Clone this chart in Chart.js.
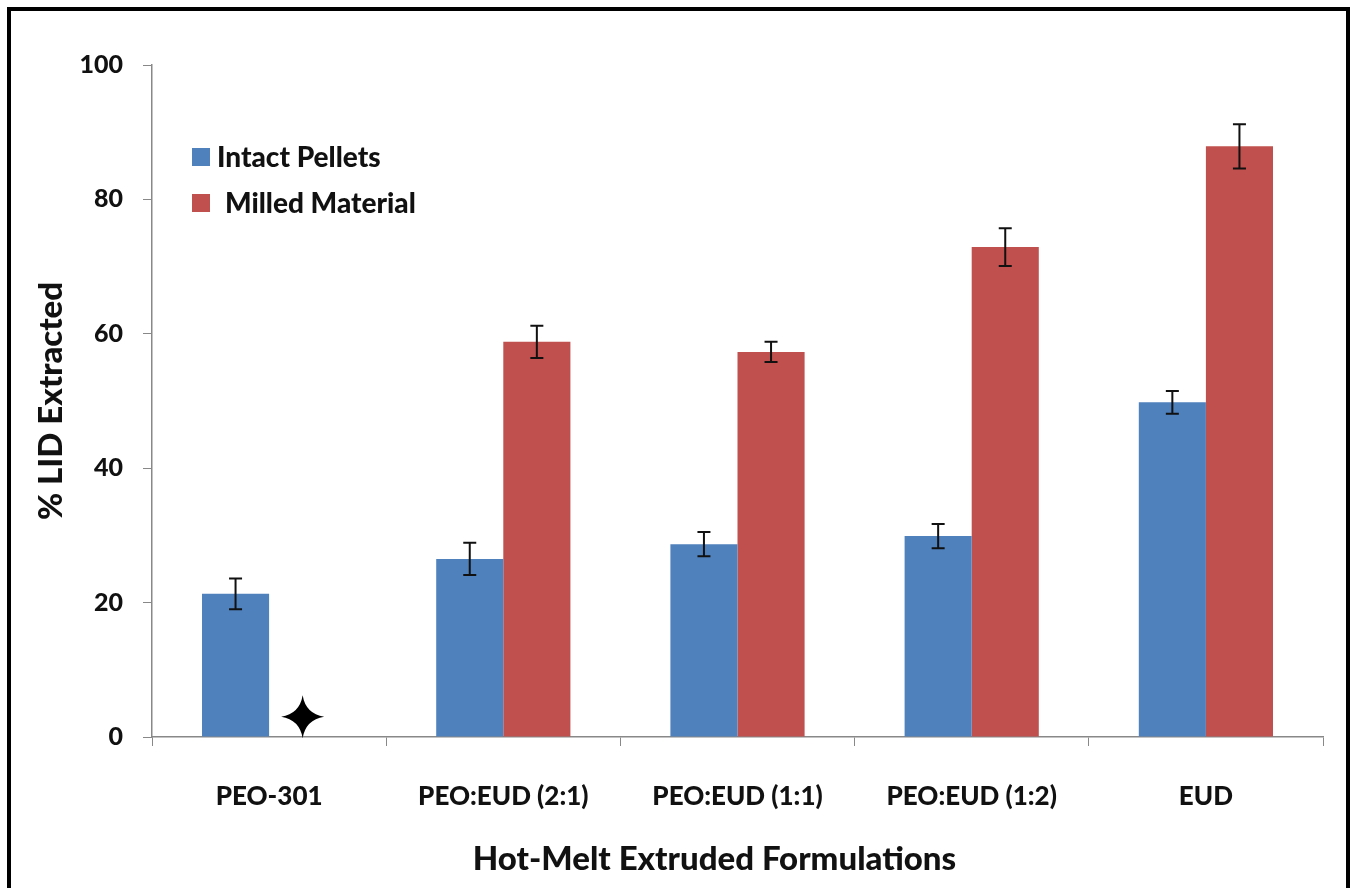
<!DOCTYPE html>
<html>
<head>
<meta charset="utf-8">
<script src="https://cdn.jsdelivr.net/npm/chart.js@4.4.1/dist/chart.umd.min.js"></script>
<style>
  html, body { margin: 0; padding: 0; background: #fff; overflow: hidden; }
  #wrap { position: relative; width: 1355px; height: 888px; }
  #frame {
    position: absolute; left: 7px; top: 7px; width: 1335px; height: 878px;
    border: 4px solid #000; border-bottom: 2px solid #999; pointer-events: none;
  }
</style>
</head>
<body>
<div id="wrap">
  <canvas id="lidChart" width="1355" height="888"></canvas>
  <div id="frame"></div>
</div>
<script>
// values
const categories = ['PEO-301', 'PEO:EUD (2:1)', 'PEO:EUD (1:1)', 'PEO:EUD (1:2)', 'EUD'];
const intactPellets = [21.3, 26.5, 28.7, 29.9, 49.8];
const intactErr = [2.3, 2.4, 1.8, 1.8, 1.7];
const milledMaterial = [null, 58.8, 57.3, 72.9, 87.9];
const milledErr = [null, 2.4, 1.5, 2.8, 3.3];
const notDetectedMark = [3, null, null, null, null]; // star in place of the milled bar
const yTicks = [0, 20, 40, 60, 80, 100];
const xTitle = 'Hot-Melt Extruded Formulations';

const FONT = 'Lato, "Open Sans", sans-serif';
const WEIGHT = '900';

// error bars on top of each bar
const errorBars = {
    id: 'errorBars',
    afterDatasetsDraw(chart) {
        const ctx = chart.ctx;
        const y = chart.scales.y;
        const errs = [intactErr, milledErr];
        ctx.save();
        ctx.strokeStyle = '#111';
        ctx.lineWidth = 2;
        chart.data.datasets.forEach((ds, i) => {
            const meta = chart.getDatasetMeta(i);
            meta.data.forEach((bar, j) => {
                const v = ds.data[j], e = errs[i][j];
                if (v == null || e == null) return;
                const top = y.getPixelForValue(v + e);
                const bot = y.getPixelForValue(v - e);
                ctx.beginPath();
                ctx.moveTo(bar.x, top); ctx.lineTo(bar.x, bot);
                ctx.moveTo(bar.x - 6.5, top); ctx.lineTo(bar.x + 6.5, top);
                ctx.moveTo(bar.x - 6.5, bot); ctx.lineTo(bar.x + 6.5, bot);
                ctx.stroke();
            });
        });
        ctx.restore();
    }
};

// 4-point star where the milled bar would be
const starMark = {
    id: 'starMark',
    afterDatasetsDraw(chart) {
        const ctx = chart.ctx;
        const meta = chart.getDatasetMeta(1);
        ctx.save();
        ctx.fillStyle = '#000';
        notDetectedMark.forEach((v, j) => {
            if (v == null) return;
            const cx = meta.data[j].x;
            const cy = chart.scales.y.getPixelForValue(v);
            const r = 21.5, w = 3;
            ctx.beginPath();
            ctx.moveTo(cx, cy - r);
            ctx.quadraticCurveTo(cx + w, cy - w, cx + r, cy);
            ctx.quadraticCurveTo(cx + w, cy + w, cx, cy + r);
            ctx.quadraticCurveTo(cx - w, cy + w, cx - r, cy);
            ctx.quadraticCurveTo(cx - w, cy - w, cx, cy - r);
            ctx.fill();
        });
        ctx.restore();
    }
};

// legend inside the plot area + x title (sits a bit left of centre in the original)
const extras = {
    id: 'extras',
    afterDraw(chart) {
        const ctx = chart.ctx;
        const x0 = chart.chartArea.left + 40;
        const rows = [157, 203];
        const textX = [217, 225];
        ctx.save();
        ctx.font = WEIGHT + ' 28px ' + FONT;
        ctx.textBaseline = 'middle';
        chart.data.datasets.forEach((ds, i) => {
            ctx.fillStyle = ds.backgroundColor;
            ctx.fillRect(x0, rows[i] - 9, 18, 18);
            ctx.fillStyle = '#111';
            ctx.fillText(ds.label, textX[i], rows[i] + 1);
        });
        ctx.font = WEIGHT + ' 33px ' + FONT;
        ctx.textAlign = 'center';
        const cx = (chart.chartArea.left + chart.chartArea.right) / 2 - 23;
        ctx.fillText(xTitle, cx, 859);
        ctx.restore();
    }
};

const ctx = document.getElementById('lidChart').getContext('2d');
const lidChart = new Chart(ctx, {
    type: 'bar',
    data: {
        labels: categories,
        datasets: [{
            label: 'Intact Pellets',
            data: intactPellets,
            backgroundColor: '#4F81BD',
            categoryPercentage: 0.573,
            barPercentage: 1.0
        }, {
            label: 'Milled Material',
            data: milledMaterial,
            backgroundColor: '#C0504D',
            categoryPercentage: 0.573,
            barPercentage: 1.0
        }]
    },
    options: {
        responsive: false,
        animation: false,
        layout: { padding: { left: 32, top: 65, right: 32, bottom: 10 } },
        plugins: {
            legend: { display: false },
            tooltip: { enabled: false }
        },
        scales: {
            x: {
                grid: { drawOnChartArea: false, drawTicks: true, tickLength: 9, color: '#888', offset: true },
                border: { color: '#888', width: 1.5 },
                ticks: { color: '#111', padding: 35, maxRotation: 0, font: { family: FONT, size: 26, weight: WEIGHT } },
                title: { display: false },
                afterFit(scale) { scale.height = 141; }
            },
            y: {
                min: 0, max: 100,
                afterBuildTicks(scale) { scale.ticks = yTicks.map(v => ({ value: v })); },
                grid: { drawOnChartArea: false, drawTicks: true, tickLength: 9, color: '#888' },
                border: { color: '#888', width: 1.5 },
                ticks: { color: '#111', padding: 20, font: { family: FONT, size: 25, weight: WEIGHT } },
                title: { display: true, text: '% LID Extracted', color: '#111', padding: 0,
                         font: { family: FONT, size: 33, weight: WEIGHT } },
                afterFit(scale) { scale.width = 120; }
            }
        }
    },
    plugins: [errorBars, starMark, extras]
});
</script>
</body>
</html>
